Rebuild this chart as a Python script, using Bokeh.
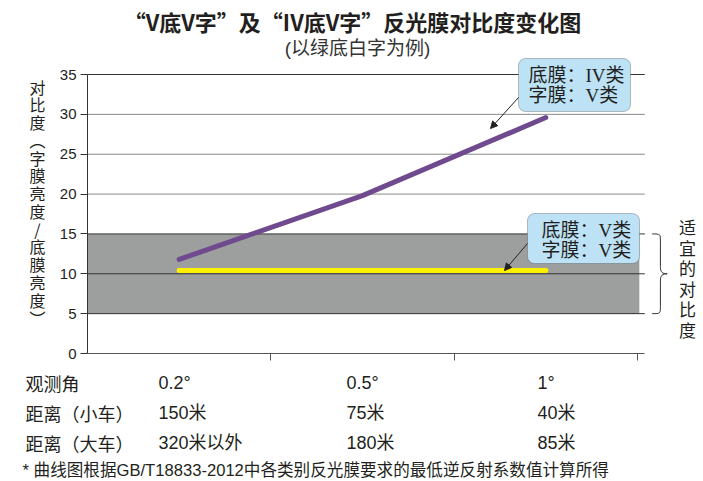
from bokeh.plotting import figure
from bokeh.models import (Range1d, FixedTicker, LinearAxis, Label, BoxAnnotation,
                          Arrow, NormalHead)
from bokeh.embed import file_html
from bokeh.resources import INLINE

# ---------------- data ----------------
angles = ["0.2°", "0.5°", "1°"]
dist_small = ["150米", "75米", "40米"]
dist_large = ["320米以外", "180米", "85米"]
row_labels = ["观测角", "距离（小车）", "距离（大车）"]
x_pos = [0.5, 1.5, 2.5]
iv_v = [11.8, 19.8, 29.6]      # 底膜IV类 / 字膜V类
v_v = [10.4, 10.4, 10.4]       # 底膜V类 / 字膜V类
band_low, band_high = 5, 15
y_ticks = [0, 5, 10, 15, 20, 25, 30, 35]
sep_ticks = [1, 2, 3]

title_text = "“V底V字”及“IV底V字”反光膜对比度变化图"
subtitle_text = "(以绿底白字为例)"
ylabel_text = "对比度︵字膜亮度/底膜亮度︶"
right_text = "适宜的对比度"
note_text = "* 曲线图根据GB/T18833-2012中各类别反光膜要求的最低逆反射系数值计算所得"
box_iv = ["底膜：IV类", "字膜：V类"]
box_v = ["底膜：V类", "字膜：V类"]

# ---------------- layout helpers (canvas px -> data) ----------------
W, H = 703, 481
X0, XU = 87.0, 183.33
Y0, YU = 353.0, 7.971
def dx(px):
    return (px - X0) / XU
def dy(py):
    return (Y0 - py) / YU

FONT = "Noto Sans CJK SC"
SANS = "'Liberation Sans', 'Noto Sans CJK SC', sans-serif"
SERIF = "'Liberation Serif', 'Noto Sans CJK SC', serif"
TXT = "#231f20"

p = figure(width=W, height=H, output_backend="svg", toolbar_location=None,
           x_range=Range1d(dx(0), dx(W)), y_range=Range1d(dy(H), dy(0)),
           min_border=0, x_axis_location=None, y_axis_location=None)
p.outline_line_color = None
p.xgrid.visible = False
p.ygrid.visible = False
p.background_fill_color = "white"
p.border_fill_color = "white"

# band of suitable contrast
p.quad(left=0, right=3.01, bottom=band_low, top=band_high,
       fill_color="#9d9e9e", line_color=None)

# grid lines
x_end = 3.04
for t in y_ticks[1:]:
    col = "#8a8a8a" if band_high < t < 35 else "#333333"
    p.segment(x0=0, x1=x_end, y0=t, y1=t, line_color=col, line_width=1)

# axes (drawn at fixed data locations inside the canvas)
yax = LinearAxis(ticker=FixedTicker(ticks=y_ticks), bounds=(0, 35), fixed_location=0)
yax.major_tick_out = 7
yax.major_tick_in = 0
yax.minor_tick_out = 0
yax.minor_tick_in = 0
yax.axis_line_color = "#333333"
yax.major_tick_line_color = "#333333"
yax.major_label_text_font = "Liberation Sans"
yax.major_label_text_font_size = "15px"
yax.major_label_text_color = TXT
yax.major_label_standoff = 4
p.add_layout(yax, "left")

xax = LinearAxis(ticker=FixedTicker(ticks=sep_ticks), bounds=(0, x_end), fixed_location=0)
xax.major_tick_out = 7
xax.major_tick_in = 0
xax.minor_tick_out = 0
xax.minor_tick_in = 0
xax.axis_line_color = "#555555"
xax.major_tick_line_color = "#555555"
xax.major_label_text_color = None
p.add_layout(xax, "below")

# series
p.line(x_pos, iv_v, line_width=5, line_color="#6f4a8e", line_cap="round")
p.line(x_pos, v_v, line_width=5, line_color="#fff000", line_cap="round")

# brace
xt, xs, xp = 3.08, 3.125, 3.162
mid = (band_low + band_high) / 2
p.bezier(x0=[xt, xs, xs, xt], y0=[band_high, mid + 0.9, mid - 0.9, band_low],
         x1=[xs, xp, xp, xs], y1=[band_high - 0.9, mid, mid, band_low + 0.9],
         cx0=[xs, xs, xs, xs], cy0=[band_high, mid + 0.2, mid - 0.2, band_low],
         cx1=[xs, xs + 0.01, xs + 0.01, xs], cy1=[band_high, mid, mid, band_low],
         line_color="#333333", line_width=1)
p.segment(x0=[xs, xs], x1=[xs, xs], y0=[band_high - 0.9, mid - 0.9],
          y1=[mid + 0.9, band_low + 0.9], line_color="#333333", line_width=1)

# callouts
def callout(l, r, t, b, lines, tx, ty1, ty2):
    p.add_layout(BoxAnnotation(left=dx(l), right=dx(r), top=dy(t), bottom=dy(b),
                               fill_color="#bde2f6", fill_alpha=1,
                               line_color="#333333", line_width=1, border_radius=7))
    for txt, ty in zip(lines, [ty1, ty2]):
        p.add_layout(Label(x=dx(tx), y=dy(ty), text=txt, text_font=SERIF,
                           text_font_size="19px", text_color=TXT,
                           text_baseline="middle", text_align="left"))

callout(518, 630, 58, 111, box_iv, 528, 75, 95)
callout(527, 639, 213, 263, box_v, 541, 230, 250)

for (sx, sy, ex, ey) in [(518, 97, 490, 128), (527, 243, 504, 270)]:
    p.add_layout(Arrow(end=NormalHead(size=7, fill_color="#222222", line_color="#222222"),
                       x_start=dx(sx), y_start=dy(sy), x_end=dx(ex), y_end=dy(ey),
                       line_color="#222222", line_width=1))

# titles
p.add_layout(Label(x=dx(352), y=dy(20), text=title_text, text_font=FONT,
                   text_font_size="22px", text_font_style="bold", text_color=TXT,
                   text_align="center", text_baseline="middle"))
p.add_layout(Label(x=dx(357), y=dy(48), text=subtitle_text, text_font=SANS,
                   text_font_size="19px", text_color="#333333",
                   text_align="center", text_baseline="middle"))

# vertical texts, one character per label
def vertical(text, cx, y_first, step, size):
    for i, ch in enumerate(text):
        p.add_layout(Label(x=dx(cx), y=dy(y_first + i * step), text=ch, text_font=FONT,
                           text_font_size=size, text_color=TXT,
                           text_align="center", text_baseline="middle"))

vertical(ylabel_text, 37, 86, 17.77, "16px")
vertical(right_text, 687, 226, 20.5, "17px")

# table below the axis
row_y = [382, 412, 442]
col_x = [158, 346, 537]
rows = [angles, dist_small, dist_large]
for lab, ry, vals in zip(row_labels, row_y, rows):
    p.add_layout(Label(x=dx(25), y=dy(ry), text=lab, text_font=FONT,
                       text_font_size="18px", text_color=TXT,
                       text_align="left", text_baseline="middle"))
    for cx, v in zip(col_x, vals):
        p.add_layout(Label(x=dx(cx), y=dy(ry), text=v, text_font=SANS,
                           text_font_size="18px", text_color=TXT,
                           text_align="left", text_baseline="middle"))

p.add_layout(Label(x=dx(22), y=dy(470), text=note_text, text_font=SANS,
                   text_font_size="16.6px", text_color=TXT,
                   text_align="left", text_baseline="middle"))

open("out.html", "w").write(file_html(p, INLINE))
